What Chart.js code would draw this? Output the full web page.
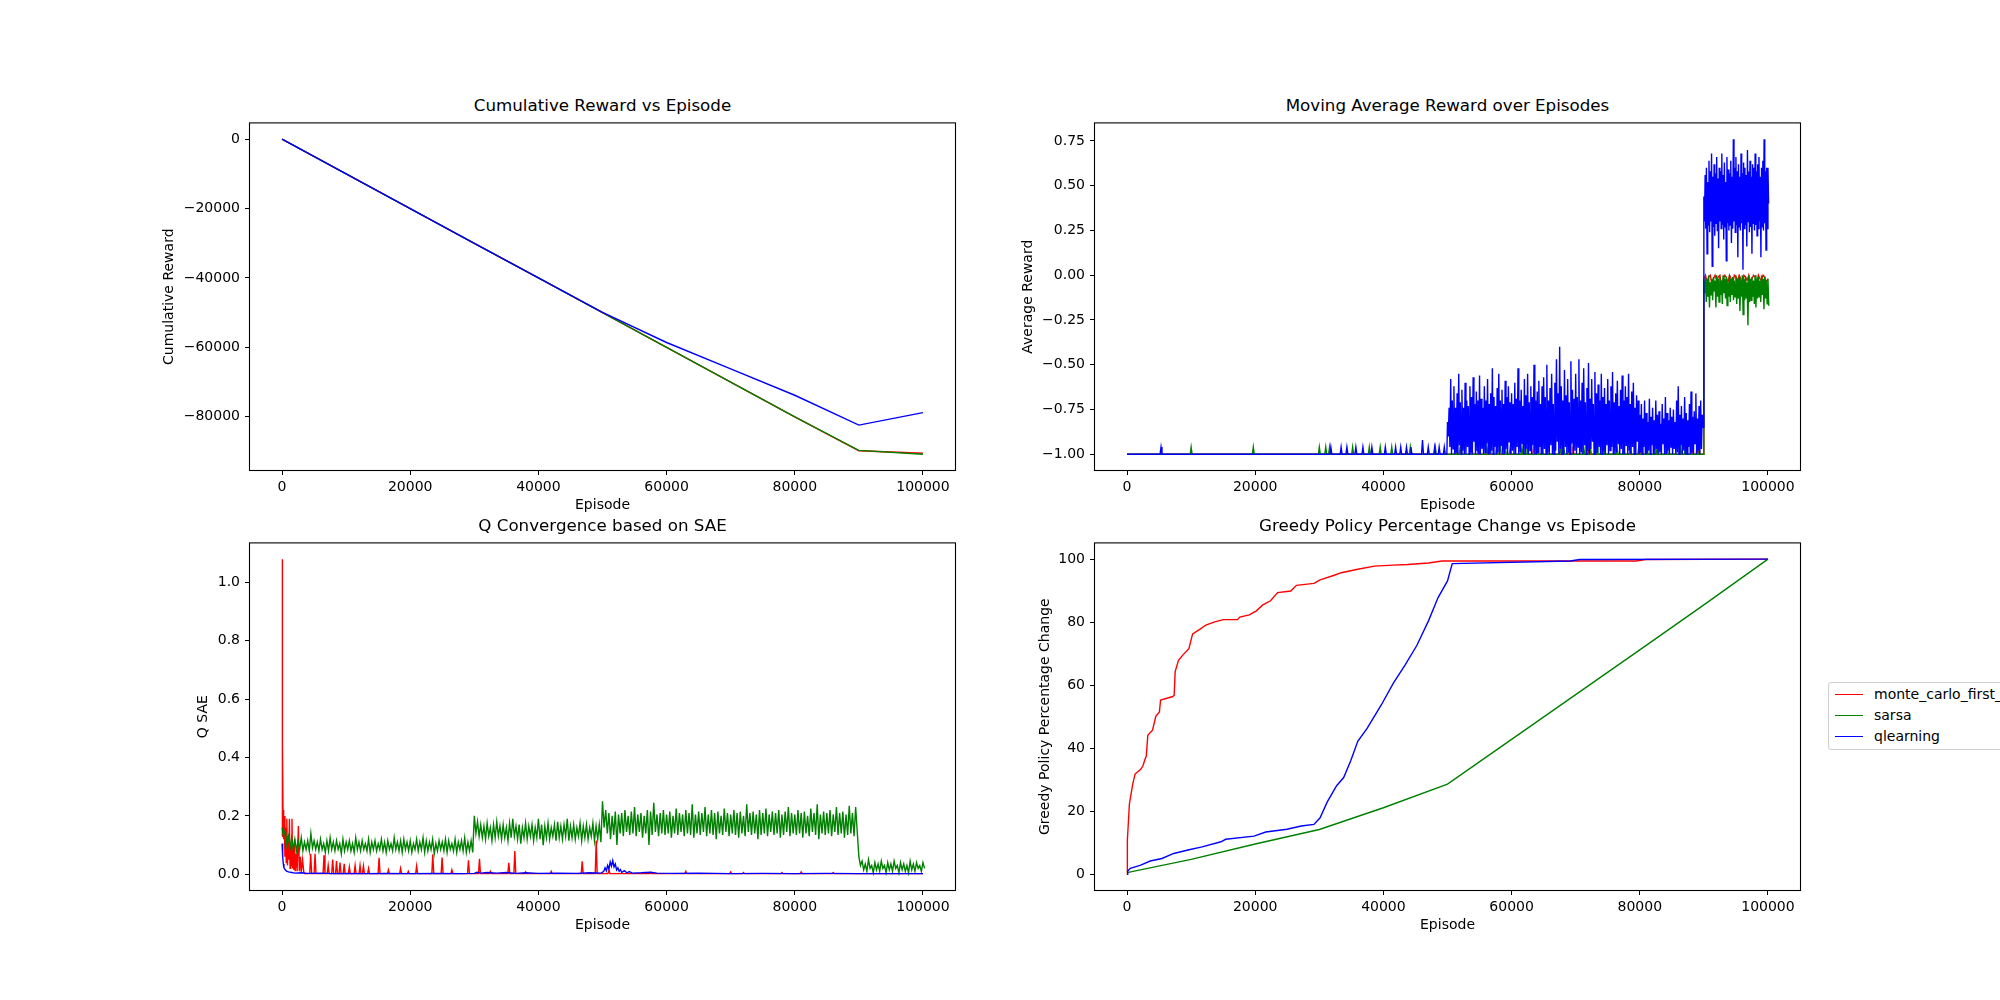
<!DOCTYPE html>
<html>
<head>
<meta charset="utf-8">
<script src="https://cdn.jsdelivr.net/npm/chart.js@4.4.1/dist/chart.umd.min.js"></script>
<style>
html, body { margin: 0; padding: 0; background: #fff; width: 2000px; height: 1000px; overflow: hidden; font-family: "DejaVu Sans", sans-serif; }
.plot { position: absolute; }
.ttl { position: absolute; text-align: center; font-size: 16.7px; line-height: 20px; color: #000; white-space: nowrap; }
#legend { position: absolute; left: 1828px; top: 682px; width: 240px; height: 66px; border: 1px solid #d0d0d0; border-radius: 3px; background: #fff; font-size: 14px; color: #000; }
.leg-row { position: absolute; left: 0; height: 20px; white-space: nowrap; }
.leg-line { position: absolute; left: 6px; width: 28px; height: 0; border-top: 1.4px solid; top: 10px; }
.leg-txt { position: absolute; left: 45px; top: 1px; line-height: 18px; }
</style>
</head>
<body>
<div id="fig"></div>
<div id="legend"></div>
<script>
(function () {
    'use strict';

    // ---- series names / colours ----
    const seriesNames = ['monte_carlo_first_visit', 'sarsa', 'qlearning'];
    const seriesColors = ['#ff0000', '#008000', '#0000ff'];

    // ---- axis limits and ticks ----
    const episodeRange = [-5000, 105000];
    const episodeTicks = [0, 20000, 40000, 60000, 80000, 100000];
    const cumRange = [-95340, 4540];
    const cumTicks = [-80000, -60000, -40000, -20000, 0];
    const avgRange = [-1.088, 0.848];
    const avgTicks = [-1, -0.75, -0.5, -0.25, 0, 0.25, 0.5, 0.75];
    const qRange = [-0.054, 1.134];
    const qTicks = [0, 0.2, 0.4, 0.6, 0.8, 1.0];
    const greedyRange = [-5, 105];
    const greedyTicks = [0, 20, 40, 60, 80, 100];

    // ---- Cumulative reward (sampled every 10000 episodes) ----
    const cumEpisodes = [0, 10000, 20000, 30000, 40000, 50000, 60000, 70000, 80000, 90000, 100000];
    const mcCum = [0, -10000, -20000, -30000, -40000, -50000, -60000, -70000, -80000, -89800, -90500];
    const sarsaCum = [0, -10000, -20000, -30000, -40000, -50000, -60000, -70000, -80000, -89700, -90800];
    const qlCum = [0, -10000, -20000, -30000, -40000, -49900, -58600, -66200, -73800, -82400, -78800];

    // ---- Moving average reward ----
    // spikes off the -1 baseline: [episode, peak]
    const mcAvgSpikes = [[51460, -0.96], [52080, -0.96], [57700, -0.96], [63440, -0.96], [69580, -0.96],
        [72030, -0.96], [80100, -0.96], [88180, -0.96], [89220, -0.96]];
    const sarsaAvgSpikes = [[10000, -0.96], [19700, -0.96], [30000, -0.96], [31000, -0.96], [31600, -0.96],
        [35200, -0.96], [37800, -0.96], [39500, -0.96], [41300, -0.96], [44200, -0.96], [48100, -0.96],
        [51200, -0.96], [51980, -0.96], [53800, -0.96], [54840, -0.96], [56150, -0.96], [56670, -0.96],
        [58230, -0.92], [59010, -0.96], [59790, -0.96], [61610, -0.96], [62400, -0.96], [63960, -0.96],
        [64740, -0.96], [65520, -0.96], [67600, -0.96], [68130, -0.96], [68910, -0.96], [71250, -0.96],
        [72290, -0.96], [73330, -0.96], [74380, -0.92], [76460, -0.96], [77500, -0.96], [78540, -0.96],
        [79840, -0.96], [81150, -0.96], [82710, -0.96], [84270, -0.96], [86350, -0.96], [87130, -0.96],
        [88960, -0.96]];
    const qlAvgSpikes = [[5300, -0.96], [31800, -0.96], [33400, -0.96], [34300, -0.96], [35700, -0.96],
        [36800, -0.96], [38200, -0.96], [40300, -0.96], [41900, -0.96], [42700, -0.96], [43600, -0.96],
        [44300, -0.96], [46100, -0.92], [47000, -0.96], [48000, -0.96], [48700, -0.96], [49500, -0.96]];
    // 90000-100000, every 250 episodes
    const mcAvgLate = [-0.02, 0, -0.04, -0.01, 0, -0.05, -0.02, 0, -0.03, -0.01, 0, -0.06, -0.02, 0,
        -0.01, -0.04, 0, -0.02, -0.05, 0, -0.01, -0.03, 0, -0.02, -0.06, 0, -0.01, -0.03, 0, -0.04,
        -0.02, 0, -0.01, -0.05, 0, -0.02, -0.03, 0, -0.01, -0.04, -0.02];
    // sarsa 90000-100000, highs / lows per 250 episodes
    const sarsaAvgLateHigh = [-0.03, -0.01, -0.02, 0, -0.04, -0.02, -0.01, -0.03, 0, -0.02, -0.01, -0.03,
        0, -0.02, -0.01, -0.04, 0, -0.02, -0.01, -0.03, 0, -0.02, -0.01, -0.03, 0, -0.02, -0.01, -0.04,
        0, -0.02, -0.01, -0.03, 0, -0.02, -0.01, -0.03, 0, -0.02, -0.01, -0.03, -0.02];
    const sarsaAvgLateLow = [-0.10, -0.15, -0.12, -0.18, -0.11, -0.14, -0.09, -0.18, -0.12, -0.15, -0.11,
        -0.16, -0.10, -0.13, -0.17, -0.12, -0.15, -0.11, -0.14, -0.12, -0.16, -0.13, -0.20, -0.12, -0.22,
        -0.14, -0.13, -0.28, -0.15, -0.14, -0.12, -0.16, -0.18, -0.13, -0.12, -0.15, -0.11, -0.19, -0.13,
        -0.16, -0.17];
    // qlearning 50000-89750, highs / lows per 250 episodes
    const qlAvgMidHigh = [
        -0.82, -0.74, -0.58, -0.70, -0.62, -0.74, -0.66, -0.55, -0.71, -0.64, -0.74, -0.60, -0.70, -0.73, -0.62, -0.68, -0.57, -0.72, -0.65, -0.70,
        -0.56, -0.69, -0.74, -0.62, -0.70, -0.58, -0.72, -0.66, -0.52, -0.68, -0.73, -0.63, -0.55, -0.70, -0.64, -0.72, -0.59, -0.68, -0.62, -0.71,
        -0.66, -0.72, -0.60, -0.69, -0.52, -0.70, -0.64, -0.73, -0.58, -0.67, -0.55, -0.71, -0.62, -0.68, -0.50, -0.70, -0.65, -0.59, -0.72, -0.62,
        -0.57, -0.68, -0.50, -0.70, -0.63, -0.55, -0.72, -0.60, -0.47, -0.66, -0.40, -0.62, -0.70, -0.53, -0.67, -0.58, -0.71, -0.48, -0.64, -0.69,
        -0.55, -0.68, -0.47, -0.70, -0.60, -0.52, -0.71, -0.63, -0.49, -0.69, -0.58, -0.72, -0.54, -0.66, -0.61, -0.70, -0.55, -0.68, -0.63, -0.72,
        -0.58, -0.70, -0.62, -0.54, -0.71, -0.66, -0.59, -0.73, -0.64, -0.56, -0.70, -0.62, -0.68, -0.55, -0.72, -0.65, -0.60, -0.74, -0.67, -0.70,
        -0.78, -0.72, -0.80, -0.70, -0.77, -0.82, -0.69, -0.79, -0.74, -0.81, -0.70, -0.78, -0.76, -0.83, -0.72, -0.80, -0.68, -0.77, -0.81, -0.74,
        -0.79, -0.75, -0.82, -0.70, -0.62, -0.78, -0.73, -0.80, -0.68, -0.77, -0.81, -0.72, -0.65, -0.79, -0.76, -0.66, -0.80, -0.73, -0.70, -0.78];
    const qlAvgMidLow = [
        -0.90, -0.96, -1.00, -0.97, -1.00, -0.99, -1.00, -0.95, -1.00, -0.98, -1.00, -1.00, -0.96, -1.00, -0.99, -1.00, -0.93, -1.00, -0.98, -1.00,
        -1.00, -0.97, -1.00, -0.99, -0.94, -1.00, -1.00, -0.98, -1.00, -0.96, -1.00, -0.99, -1.00, -0.95, -1.00, -1.00, -0.97, -1.00, -0.93, -1.00,
        -0.98, -1.00, -1.00, -0.96, -1.00, -0.99, -0.94, -1.00, -1.00, -0.97, -1.00, -0.98, -1.00, -0.95, -1.00, -1.00, -0.99, -0.96, -1.00, -1.00,
        -0.97, -1.00, -0.99, -1.00, -0.95, -1.00, -1.00, -0.98, -0.93, -1.00, -0.97, -1.00, -1.00, -0.96, -1.00, -0.99, -1.00, -0.94, -1.00, -0.98,
        -1.00, -0.96, -1.00, -0.99, -1.00, -0.95, -1.00, -0.98, -1.00, -0.97, -0.93, -1.00, -1.00, -0.99, -0.96, -1.00, -1.00, -0.98, -1.00, -0.95,
        -1.00, -0.98, -0.96, -1.00, -1.00, -0.99, -0.94, -1.00, -0.97, -1.00, -1.00, -0.95, -1.00, -0.98, -1.00, -0.96, -1.00, -1.00, -0.93, -1.00,
        -0.99, -1.00, -0.96, -1.00, -1.00, -0.98, -1.00, -0.95, -1.00, -1.00, -0.97, -1.00, -0.99, -1.00, -0.94, -1.00, -1.00, -0.98, -1.00, -0.96,
        -1.00, -0.97, -1.00, -0.99, -1.00, -0.95, -1.00, -0.98, -1.00, -1.00, -0.96, -1.00, -0.99, -1.00, -0.94, -1.00, -0.98, -1.00, -0.97, -0.85];
    // qlearning 90000-100000, highs / lows per 200 episodes
    const qlAvgLateHigh = [
        0.44, 0.56, 0.60, 0.52, 0.64, 0.58, 0.68, 0.55, 0.62, 0.57,
        0.66, 0.54, 0.60, 0.58, 0.68, 0.56, 0.63, 0.52, 0.66, 0.59,
        0.57, 0.64, 0.55, 0.76, 0.60, 0.66, 0.58, 0.62, 0.55, 0.68,
        0.57, 0.63, 0.60, 0.56, 0.70, 0.58, 0.64, 0.55, 0.62, 0.60,
        0.68, 0.58, 0.62, 0.66, 0.55, 0.60, 0.64, 0.76, 0.58, 0.60, 0.60];
    const qlAvgLateLow = [
        0.30, 0.26, 0.12, 0.28, 0.24, 0.30, 0.05, 0.27, 0.22, 0.29,
        0.25, 0.15, 0.30, 0.26, 0.28, 0.20, 0.27, 0.08, 0.29, 0.25,
        0.28, 0.18, 0.26, 0.30, 0.24, 0.28, 0.10, 0.27, 0.25, 0.29,
        0.03, 0.26, 0.28, 0.16, 0.30, 0.24, 0.27, 0.12, 0.29, 0.25,
        0.28, 0.22, 0.26, 0.30, 0.10, 0.27, 0.25, 0.29, 0.14, 0.26, 0.40];

    // ---- Q SAE ----
    const mcQEarly = [[0, 0.13], [30, 1.08], [80, 0.45], [150, 0.22], [250, 0.12], [350, 0.2], [450, 0.06],
        [550, 0.16], [650, 0.04], [750, 0.19], [850, 0.03], [950, 0.13], [1050, 0.05], [1150, 0.19],
        [1250, 0.02], [1350, 0.1], [1450, 0.03], [1550, 0.19], [1650, 0.02], [1750, 0.09], [1850, 0.015],
        [1950, 0.12], [2050, 0.01], [2200, 0.07], [2350, 0.01], [2550, 0.165], [2700, 0.01], [2850, 0.06],
        [3000, 0.008], [3200, 0.05], [3400, 0.005]];
    const mcQSpikes = [[4470, 0.07], [5150, 0.07], [6550, 0.065], [7200, 0.03], [7900, 0.05], [8500, 0.045],
        [9050, 0.04], [9700, 0.036], [10500, 0.025], [11400, 0.03], [12170, 0.03], [12700, 0.028],
        [13500, 0.02], [15140, 0.056], [16600, 0.015], [18500, 0.02], [19700, 0.01], [21000, 0.028],
        [23520, 0.068], [24975, 0.057], [26500, 0.015], [29087, 0.048], [30805, 0.053], [32500, 0.01],
        [35384, 0.039], [36320, 0.08], [38000, 0.008], [42000, 0.01], [46835, 0.044], [49020, 0.116],
        [51000, 0.015], [57500, 0.006], [63000, 0.01], [70000, 0.008], [72000, 0.006], [78000, 0.006],
        [81000, 0.008], [86000, 0.006]];
    // sarsa highs / lows per 500 episodes, 0-100000
    const sarsaQHigh = [
        0.16, 0.15, 0.13, 0.125, 0.12, 0.115, 0.125, 0.11, 0.115, 0.14,
        0.115, 0.11, 0.12, 0.105, 0.115, 0.125, 0.11, 0.115, 0.105, 0.12,
        0.11, 0.115, 0.105, 0.125, 0.11, 0.115, 0.105, 0.12, 0.11, 0.115,
        0.105, 0.12, 0.11, 0.115, 0.105, 0.125, 0.11, 0.115, 0.12, 0.11,
        0.115, 0.105, 0.12, 0.11, 0.125, 0.115, 0.11, 0.12, 0.105, 0.115,
        0.11, 0.12, 0.115, 0.105, 0.12, 0.11, 0.115, 0.125, 0.11, 0.115,
        0.20, 0.18, 0.17, 0.165, 0.175, 0.16, 0.17, 0.18, 0.165, 0.17,
        0.16, 0.175, 0.19, 0.165, 0.17, 0.16, 0.175, 0.165, 0.17, 0.16,
        0.19, 0.17, 0.165, 0.175, 0.16, 0.17, 0.18, 0.165, 0.17, 0.19,
        0.165, 0.17, 0.16, 0.175, 0.165, 0.17, 0.16, 0.175, 0.165, 0.17,
        0.25, 0.22, 0.21, 0.20, 0.215, 0.205, 0.21, 0.22, 0.20, 0.215,
        0.23, 0.205, 0.21, 0.20, 0.22, 0.215, 0.245, 0.205, 0.21, 0.22,
        0.205, 0.215, 0.20, 0.225, 0.21, 0.205, 0.22, 0.21, 0.24, 0.205,
        0.215, 0.21, 0.23, 0.205, 0.22, 0.21, 0.215, 0.20, 0.225, 0.21,
        0.205, 0.22, 0.21, 0.215, 0.20, 0.24, 0.21, 0.215, 0.205, 0.22,
        0.21, 0.225, 0.205, 0.215, 0.21, 0.22, 0.205, 0.215, 0.23, 0.21,
        0.205, 0.22, 0.21, 0.215, 0.20, 0.225, 0.21, 0.24, 0.205, 0.215,
        0.21, 0.22, 0.205, 0.23, 0.21, 0.215, 0.205, 0.235, 0.21, 0.23,
        0.06, 0.045, 0.035, 0.05, 0.03, 0.04, 0.035, 0.045, 0.03, 0.04,
        0.035, 0.045, 0.03, 0.04, 0.035, 0.03, 0.045, 0.035, 0.04, 0.03, 0.04];
    const sarsaQLow = [
        0.13, 0.10, 0.09, 0.085, 0.08, 0.085, 0.08, 0.085, 0.08, 0.09,
        0.085, 0.08, 0.085, 0.075, 0.08, 0.085, 0.08, 0.085, 0.07, 0.08,
        0.085, 0.08, 0.075, 0.085, 0.08, 0.085, 0.08, 0.075, 0.085, 0.08,
        0.085, 0.08, 0.075, 0.085, 0.08, 0.085, 0.08, 0.075, 0.085, 0.08,
        0.075, 0.085, 0.08, 0.085, 0.075, 0.08, 0.085, 0.07, 0.08, 0.085,
        0.08, 0.075, 0.085, 0.08, 0.075, 0.085, 0.08, 0.075, 0.08, 0.075,
        0.14, 0.13, 0.125, 0.12, 0.13, 0.115, 0.125, 0.13, 0.12, 0.125,
        0.115, 0.125, 0.13, 0.12, 0.105, 0.125, 0.12, 0.13, 0.115, 0.125,
        0.12, 0.10, 0.125, 0.12, 0.13, 0.115, 0.125, 0.12, 0.13, 0.115,
        0.125, 0.12, 0.13, 0.115, 0.125, 0.12, 0.13, 0.115, 0.12, 0.11,
        0.16, 0.14, 0.12, 0.135, 0.10, 0.14, 0.13, 0.145, 0.135, 0.14,
        0.13, 0.145, 0.125, 0.14, 0.10, 0.135, 0.145, 0.13, 0.14, 0.135,
        0.14, 0.125, 0.14, 0.135, 0.145, 0.13, 0.14, 0.135, 0.125, 0.14,
        0.135, 0.145, 0.13, 0.14, 0.135, 0.12, 0.14, 0.135, 0.145, 0.13,
        0.14, 0.135, 0.125, 0.14, 0.13, 0.145, 0.135, 0.14, 0.12, 0.135,
        0.14, 0.13, 0.145, 0.135, 0.14, 0.125, 0.135, 0.145, 0.13, 0.14,
        0.135, 0.14, 0.125, 0.14, 0.13, 0.145, 0.135, 0.12, 0.14, 0.135,
        0.14, 0.13, 0.145, 0.135, 0.14, 0.125, 0.135, 0.14, 0.13, 0.145,
        0.03, 0.015, 0.01, 0.02, 0.005, 0.015, 0.01, 0.02, 0.005, 0.015,
        0.01, 0.02, 0.005, 0.015, 0.01, 0.005, 0.015, 0.01, 0.02, 0.01, 0.02];
    const qlQ = [[0, 0.105], [100, 0.06], [200, 0.035], [300, 0.022], [500, 0.015], [700, 0.011], [1000, 0.008],
        [1500, 0.006], [2000, 0.004], [3000, 0.005], [4000, 0.003], [6000, 0.004], [8000, 0.002], [10000, 0.003],
        [13000, 0.002], [16000, 0.003], [20000, 0.002], [24000, 0.003], [28000, 0.002], [30000, 0.003],
        [30400, 0.007], [31000, 0.004], [32000, 0.006], [33500, 0.004], [35000, 0.006], [36500, 0.003],
        [38000, 0.005], [40000, 0.003], [43000, 0.004], [46000, 0.003], [48000, 0.005], [49800, 0.004],
        [50200, 0.01], [50400, 0.022], [50600, 0.012], [50800, 0.03], [51000, 0.018], [51200, 0.042],
        [51400, 0.028], [51600, 0.047], [51800, 0.025], [52000, 0.035], [52200, 0.015], [52400, 0.022],
        [52600, 0.01], [52800, 0.016], [53000, 0.006], [53400, 0.012], [53800, 0.005], [54200, 0.009],
        [54600, 0.004], [56000, 0.005], [57500, 0.007], [58500, 0.004], [61000, 0.003], [65000, 0.004],
        [70000, 0.002], [75000, 0.003], [80000, 0.002], [85000, 0.003], [90000, 0.002], [95000, 0.002],
        [100000, 0.002]];

    // ---- Greedy policy percentage change ----
    const mcGreedy = [[0, 0], [50, 10.8], [368, 22.3], [884, 28.6], [1250, 31.8], [2135, 33.3], [2500, 34.5],
        [2725, 36], [3000, 37.5], [3240, 44.1], [3976, 45.7], [4490, 50.1], [5050, 51.5], [5230, 55.3],
        [7140, 56.4], [7350, 56.8], [7511, 64.3], [8027, 67.9], [8763, 69.7], [9646, 71.6], [10235, 76.3],
        [11340, 77.7], [12300, 79.1], [13550, 80.0], [15020, 80.8], [17230, 80.8], [17600, 81.6],
        [19070, 82.3], [20180, 83.6], [21130, 85.4], [22390, 86.8], [23490, 89.4], [25550, 89.9],
        [26440, 91.7], [29160, 92.3], [30120, 93.4], [32330, 94.9], [33430, 95.7], [36000, 96.8],
        [38590, 97.8], [41530, 98.1], [43740, 98.3], [47050, 98.8], [49120, 99.4], [69150, 99.4],
        [79450, 99.4], [80900, 99.9], [100000, 100]];
    const sarsaGreedy = [[0, 0.5], [10000, 4.7], [20000, 9.6], [30000, 14.2], [40000, 21.1], [50000, 28.6],
        [60000, 42.8], [70000, 57.0], [80000, 71.2], [90000, 85.5], [100000, 100]];
    const qlGreedy = [[0, 0], [100, 1.0], [515, 1.9], [2135, 2.9], [3610, 4.2], [5450, 5.0], [7290, 6.6],
        [9500, 7.7], [11710, 8.7], [14650, 10.3], [15390, 11.1], [19810, 12.1], [21650, 13.4], [24960, 14.3],
        [27170, 15.3], [29160, 15.8], [30120, 17.9], [31220, 22.9], [32700, 28.1], [33800, 30.7],
        [34900, 36.0], [36000, 42.2], [37480, 46.4], [39690, 53.8], [41530, 60.6], [43370, 66.4],
        [45210, 72.6], [47050, 80.5], [48530, 87.8], [50000, 93.1], [50740, 98.6], [69150, 99.4],
        [70620, 99.9], [100000, 100]];

    // ---- helpers to turn arrays into {x, y} points ----
    const pairs = (arr) => arr.map(([x, y]) => ({ x, y }));
    const regular = (start, step, values) => values.map((y, i) => ({ x: start + i * step, y }));
    // alternate a high and a low reading inside each step, as the dense noisy trace does
    function noisy(start, step, highs, lows) {
        const pts = [];
        const n = Math.max(highs.length, lows.length);
        for (let i = 0; i < n; i++) {
            if (i < highs.length) pts.push({ x: start + i * step, y: highs[i] });
            if (i < lows.length) pts.push({ x: start + i * step + step / 2, y: lows[i] });
        }
        return pts;
    }
    function spiky(start, end, base, spikes) {
        const pts = [{ x: start, y: base }];
        spikes.forEach(([x, h]) => {
            pts.push({ x: x - 150, y: base }, { x, y: h }, { x: x + 150, y: base });
        });
        pts.push({ x: end, y: base });
        return pts;
    }

    const FONT = '"DejaVu Sans", sans-serif';
    const PAD_T = 10;
    const PAD_R = 40;
    const XH = 47;

    const fmt = (decimals) => (v) => {
        const s = Math.abs(v).toFixed(decimals);
        return v < 0 ? '\u2212' + s : s;
    };

    const framePlugin = {
        id: 'frame',
        afterDraw(chart) {
            const { ctx, chartArea: a } = chart;
            ctx.save();
            ctx.strokeStyle = '#000';
            ctx.lineWidth = 1.1;
            ctx.strokeRect(a.left - 0.5, a.top - 0.5, a.right - a.left + 1, a.bottom - a.top + 1);
            ctx.restore();
        },
    };

    const plots = [
        {
            title: 'Cumulative Reward vs Episode', ylabel: 'Cumulative Reward',
            box: { L: 250, T: 120, W: 705, H: 350 }, yw: 93,
            yRange: cumRange, yTicks: cumTicks, yFmt: fmt(0),
            series: [
                cumEpisodes.map((x, i) => ({ x, y: mcCum[i] })),
                cumEpisodes.map((x, i) => ({ x, y: sarsaCum[i] })),
                cumEpisodes.map((x, i) => ({ x, y: qlCum[i] })),
            ],
        },
        {
            title: 'Moving Average Reward over Episodes', ylabel: 'Average Reward',
            box: { L: 1095, T: 120, W: 705, H: 350 }, yw: 79,
            yRange: avgRange, yTicks: avgTicks, yFmt: fmt(2),
            series: [
                spiky(0, 89900, -1, mcAvgSpikes).concat(regular(90000, 250, mcAvgLate)),
                spiky(0, 89900, -1, sarsaAvgSpikes).concat(noisy(90000, 250, sarsaAvgLateHigh, sarsaAvgLateLow)),
                spiky(0, 49900, -1, qlAvgSpikes).concat(
                    noisy(50000, 250, qlAvgMidHigh, qlAvgMidLow),
                    noisy(90000, 200, qlAvgLateHigh, qlAvgLateLow)),
            ],
        },
        {
            title: 'Q Convergence based on SAE', ylabel: 'Q SAE',
            box: { L: 250, T: 540, W: 705, H: 350 }, yw: 59,
            yRange: qRange, yTicks: qTicks, yFmt: fmt(1),
            series: [
                pairs(mcQEarly).concat(spiky(3500, 100000, 0.002, mcQSpikes)),
                noisy(0, 500, sarsaQHigh, sarsaQLow),
                pairs(qlQ),
            ],
        },
        {
            title: 'Greedy Policy Percentage Change vs Episode', ylabel: 'Greedy Policy Percentage Change',
            box: { L: 1095, T: 540, W: 705, H: 350 }, yw: 62,
            yRange: greedyRange, yTicks: greedyTicks, yFmt: fmt(0),
            series: [pairs(mcGreedy), pairs(sarsaGreedy), pairs(qlGreedy)],
        },
    ];

    const fig = document.getElementById('fig');

    function makeAxes(p) {
        const t = document.createElement('div');
        t.className = 'ttl';
        t.style.left = p.box.L + 'px';
        t.style.width = p.box.W + 'px';
        t.style.top = (p.box.T - 25) + 'px';
        t.textContent = p.title;
        fig.appendChild(t);

        const c = document.createElement('canvas');
        const w = p.yw + p.box.W + PAD_R;
        const h = PAD_T + p.box.H + XH;
        c.width = w;
        c.height = h;
        c.style.width = w + 'px';
        c.style.height = h + 'px';
        c.className = 'plot';
        c.style.left = (p.box.L - p.yw) + 'px';
        c.style.top = (p.box.T - PAD_T) + 'px';
        fig.appendChild(c);

        const tickFont = { family: FONT, size: 14 };
        const gridOpts = { display: true, drawOnChartArea: false, drawTicks: true, tickLength: 5, color: '#000', lineWidth: 1 };

        new Chart(c, {
            type: 'line',
            data: {
                datasets: p.series.map((pts, i) => ({
                    label: seriesNames[i],
                    data: pts,
                    borderColor: seriesColors[i],
                    backgroundColor: seriesColors[i],
                    borderWidth: 1.4,
                    pointRadius: 0,
                    fill: false,
                    tension: 0,
                    order: 2 - i,
                })),
            },
            options: {
                responsive: false,
                animation: false,
                devicePixelRatio: 1,
                layout: { padding: { left: 0, top: PAD_T, right: PAD_R, bottom: 0 } },
                plugins: { legend: { display: false }, tooltip: { enabled: false } },
                scales: {
                    x: {
                        type: 'linear',
                        min: episodeRange[0],
                        max: episodeRange[1],
                        afterBuildTicks: (s) => { s.ticks = episodeTicks.map((v) => ({ value: v })); },
                        afterFit: (s) => { s.height = XH; },
                        ticks: { color: '#000', font: tickFont, padding: 4, maxRotation: 0, autoSkip: false, callback: (v) => String(v) },
                        grid: gridOpts,
                        border: { display: false },
                        title: { display: true, text: 'Episode', color: '#000', font: tickFont, padding: { top: 4, bottom: 3 } },
                    },
                    y: {
                        type: 'linear',
                        min: p.yRange[0],
                        max: p.yRange[1],
                        afterBuildTicks: (s) => { s.ticks = p.yTicks.map((v) => ({ value: v })); },
                        afterFit: (s) => { s.width = p.yw; },
                        ticks: { color: '#000', font: tickFont, padding: 5, autoSkip: false, callback: (v) => p.yFmt(v) },
                        grid: gridOpts,
                        border: { display: false },
                        title: { display: true, text: p.ylabel, color: '#000', font: tickFont, padding: { top: 4, bottom: 4 } },
                    },
                },
            },
            plugins: [framePlugin],
        });
    }

    plots.forEach(makeAxes);

    // legend beside the last panel
    const legend = document.getElementById('legend');
    seriesNames.forEach((name, i) => {
        const row = document.createElement('div');
        row.className = 'leg-row';
        row.style.top = (1 + i * 21) + 'px';
        const line = document.createElement('div');
        line.className = 'leg-line';
        line.style.borderTopColor = seriesColors[i];
        const txt = document.createElement('div');
        txt.className = 'leg-txt';
        txt.textContent = name;
        row.appendChild(line);
        row.appendChild(txt);
        legend.appendChild(row);
    });
})();
</script>
</body>
</html>
